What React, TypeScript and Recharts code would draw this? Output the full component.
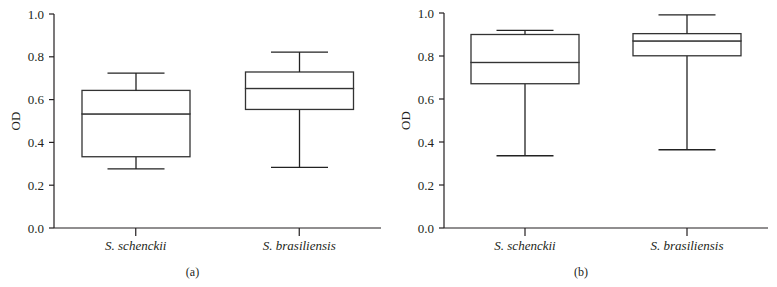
import { ComposedChart, Bar, XAxis, YAxis } from 'recharts'

const categories = ['S. schenckii', 'S. brasiliensis']
const yTicks = [0, 0.2, 0.4, 0.6, 0.8, 1.0]

// panel (a)
const minA = [0.276, 0.283]
const q1A = [0.333, 0.554]
const medA = [0.533, 0.652]
const q3A = [0.643, 0.729]
const maxA = [0.724, 0.822]

// panel (b)
const minB = [0.336, 0.364]
const q1B = [0.671, 0.801]
const medB = [0.770, 0.870]
const q3B = [0.900, 0.904]
const maxB = [0.919, 0.991]

const FONT = "'Liberation Serif', 'DejaVu Serif', serif"
const INK = '#231f20'

// stacked pieces: base (hidden) -> lower whisker -> lower box -> upper box -> upper whisker
function build(mn: number[], q1: number[], md: number[], q3: number[], mx: number[]) {
  return categories.map((name, i) => ({
    name,
    base: mn[i],
    wLow: q1[i] - mn[i],
    bLow: md[i] - q1[i],
    bHigh: q3[i] - md[i],
    wHigh: mx[i] - q3[i],
  }))
}

const CAP = 57

const Hidden = () => <g />
const LowWhisker = (p: any) => {
  const cx = p.x + p.width / 2
  return (
    <g stroke="#222" strokeWidth={1.3}>
      <line x1={cx} x2={cx} y1={p.y} y2={p.y + p.height} />
      <line x1={cx - CAP / 2} x2={cx + CAP / 2} y1={p.y + p.height} y2={p.y + p.height} />
    </g>
  )
}
const HighWhisker = (p: any) => {
  const cx = p.x + p.width / 2
  return (
    <g stroke="#222" strokeWidth={1.3}>
      <line x1={cx} x2={cx} y1={p.y} y2={p.y + p.height} />
      <line x1={cx - CAP / 2} x2={cx + CAP / 2} y1={p.y} y2={p.y} />
    </g>
  )
}
const BoxPart = (p: any) => (
  <rect x={p.x} y={p.y} width={p.width} height={p.height} fill="#fff" stroke="#333" strokeWidth={1.3} />
)

function Panel({ data, tag, width, top }: { data: any[]; tag: string; width: number; top: number }) {
  return (
    <ComposedChart width={width} height={287} data={data} margin={{ top, right: 9, left: 0, bottom: 29 }} barSize={108}>
      <XAxis dataKey="name" height={30} tickSize={8} tickMargin={5} stroke={INK} strokeWidth={1.2}
        tick={{ fontSize: 13, fill: INK, fontFamily: FONT, fontStyle: 'italic' }}
        label={{
          content: ({ viewBox }: any) => (
            <text x={viewBox.x + viewBox.width / 2 - 25} y={276} textAnchor="middle" fontSize={12} fill={INK} fontFamily={FONT}>{tag}</text>
          ),
        }} />
      <YAxis width={54} domain={[0, 1]} ticks={yTicks} tickFormatter={(v: number) => v.toFixed(1)} tickSize={5} tickMargin={5}
        stroke={INK} strokeWidth={1.2} interval={0}
        tick={{ fontSize: 13, fill: INK, fontFamily: FONT }}
        label={{
          content: ({ viewBox }: any) => {
            const cy = viewBox.y + viewBox.height / 2
            return (
              <text x={15} y={cy} transform={`rotate(-90, 15, ${cy})`} textAnchor="middle" dominantBaseline="central" fontSize={13} fill={INK} fontFamily={FONT}>OD</text>
            )
          },
        }} />
      <Bar dataKey="base" stackId="s" shape={Hidden} isAnimationActive={false} />
      <Bar dataKey="wLow" stackId="s" shape={LowWhisker} isAnimationActive={false} />
      <Bar dataKey="bLow" stackId="s" shape={BoxPart} isAnimationActive={false} />
      <Bar dataKey="bHigh" stackId="s" shape={BoxPart} isAnimationActive={false} />
      <Bar dataKey="wHigh" stackId="s" shape={HighWhisker} isAnimationActive={false} />
    </ComposedChart>
  )
}

export default function App() {
  return (
    <div style={{ position: 'absolute', left: 0, top: 0, width: 777, height: 287, background: '#fff', display: 'flex' }}>
      <Panel data={build(minA, q1A, medA, q3A, maxA)} tag="(a)" width={390} top={14} />
      <Panel data={build(minB, q1B, medB, q3B, maxB)} tag="(b)" width={387} top={13} />
    </div>
  )
}
